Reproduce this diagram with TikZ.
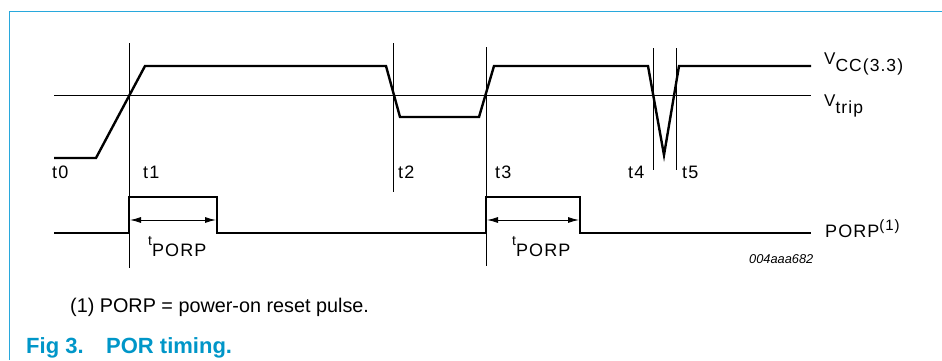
\documentclass[tikz,border=0pt]{standalone}
\usepackage{fontspec}
\setmainfont{Liberation Sans}
\usetikzlibrary{arrows.meta}
\definecolor{nxpframe}{RGB}{40,168,220}
\definecolor{nxpcap}{RGB}{0,150,200}
\newfontfamily\widesans[LetterSpace=6]{Liberation Sans}
\tikzset{
  sig/.style={line width=2.4pt, line join=miter},
  thin/.style={line width=0.9pt},
  lbl/.style={inner sep=0pt, anchor=base west, font=\widesans\fontsize{18}{18}\selectfont},
  dim/.style={line width=0.9pt, {Latex[length=11pt,width=6pt]}-{Latex[length=11pt,width=6pt]}},
}
\newcommand{\vsub}[2]{{\fontsize{17}{17}\selectfont #1}\raisebox{-7.5pt}{\fontsize{17.5}{17.5}\selectfont #2}}
\begin{document}
\begin{tikzpicture}[x=1pt,y=-1pt]
\useasboundingbox (0,0) rectangle (942,360);
% frame
\draw[nxpframe, line width=1.4pt] (9.5,360) -- (9.5,11.5) -- (942,11.5);
% thin reference lines
\draw[thin] (54,95) -- (811,95);
\draw[thin] (129,43) -- (129,268);
\draw[thin] (393,43) -- (393,192);
\draw[thin] (486,47) -- (486,266);
\draw[thin] (653,48) -- (653,170);
\draw[thin] (676,48) -- (676,170);
% VCC signal
\draw[sig] (54,158) -- (96,158) -- (145,66) -- (386,66) -- (400,117) -- (479,117) -- (494,66) -- (648,66) -- (664,155) -- (679,66) -- (811,66);
% PORP signal
\draw[sig] (54,233) -- (129,233) -- (129,197) -- (217,197) -- (217,233) -- (486,233) -- (486,197) -- (580,197) -- (580,233) -- (811,233);
% dimension arrows
\coordinate (a1) at (130,220);
\coordinate (b1) at (216,220);
\coordinate (a2) at (487,220);
\coordinate (b2) at (579,220);
\draw[dim] (a1) -- (b1);
\draw[dim] (a2) -- (b2);
% labels
\node[lbl] (t0) at (52,178) {t0};
\node[lbl] (t1) at (143,178) {t1};
\node[lbl] (t2) at (398,178) {t2};
\node[lbl] (t3) at (495,178) {t3};
\node[lbl] (t4) at (628,178) {t4};
\node[lbl] (t5) at (682,178) {t5};
\node[lbl] (vcc) at (824,64) {\vsub{V}{CC(3.3)}};
\node[lbl] (vtrip) at (824,106) {\vsub{V}{trip}};
\node[lbl] (porp) at (825,237) {PORP\raisebox{7pt}{\fontsize{15}{15}\selectfont(1)}};
\node[lbl] (tp1) at (148,245) {{\fontsize{14}{14}\selectfont t}\raisebox{-11pt}{PORP}};
\node[lbl] (tp2) at (512,245) {{\fontsize{14}{14}\selectfont t}\raisebox{-11pt}{PORP}};
\node[lbl, font=\fontsize{12.8}{12.8}\selectfont\itshape] (code) at (749,263) {004aaa682};
\node[lbl, font=\fontsize{19.8}{19.8}\selectfont] (note) at (70,312) {(1) PORP = power-on reset pulse.};
\node[lbl, font=\fontsize{22}{22}\selectfont\bfseries, text=nxpcap] (fig) at (26,353) {Fig 3.};
\node[lbl, font=\fontsize{22}{22}\selectfont\bfseries, text=nxpcap] (figt) at (106,353) {POR timing.};
\end{tikzpicture}
\end{document}
